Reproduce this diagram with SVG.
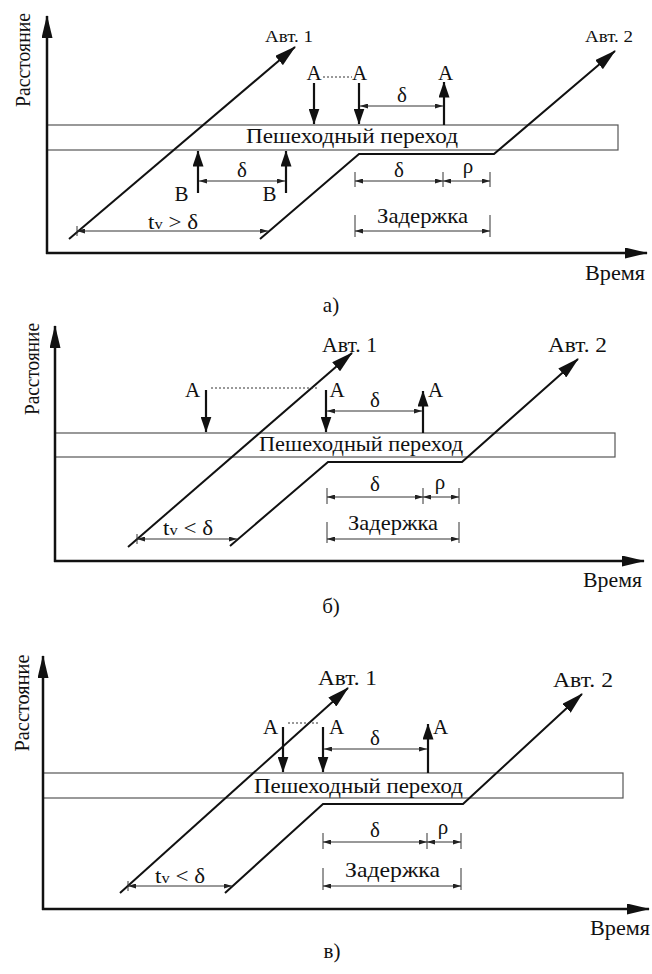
<svg xmlns="http://www.w3.org/2000/svg" width="652" height="974" viewBox="0 0 652 974">
<style>
text{font-family:"Liberation Serif","Times New Roman","DejaVu Serif",serif;fill:#111}
.t{font-size:21px}
.p{font-size:22px}
.s{font-size:16px}
.ax{stroke:#111;stroke-width:2.5;fill:none;marker-end:url(#axh)}
.veh{stroke:#111;stroke-width:2;fill:none;marker-end:url(#vh)}
.ped{stroke:#111;stroke-width:2.2;fill:none;marker-end:url(#ph)}
.zone{fill:#fff;stroke:#555;stroke-width:1.2}
.dim{stroke:#333;stroke-width:1;fill:none;marker-start:url(#dh);marker-end:url(#dh)}
.tick{stroke:#333;stroke-width:1;fill:none}
.dot{stroke:#333;stroke-width:1;stroke-dasharray:2,2;fill:none}
.c{text-anchor:middle}
</style>
<defs>
<marker id="axh" viewBox="0 0 23 11" refX="22" refY="5.5" markerWidth="23" markerHeight="11" markerUnits="userSpaceOnUse" orient="auto"><path d="M0,0L23,5.5L0,11z" fill="#111"/></marker>
<marker id="vh" viewBox="0 0 22 12" refX="21" refY="6" markerWidth="22" markerHeight="12" markerUnits="userSpaceOnUse" orient="auto"><path d="M0,0L22,6L0,12z" fill="#111"/></marker>
<marker id="ph" viewBox="0 0 16 11" refX="15.5" refY="5.5" markerWidth="16" markerHeight="11" markerUnits="userSpaceOnUse" orient="auto"><path d="M0,0L16,5.5L0,11z" fill="#111"/></marker>
<marker id="dh" viewBox="0 0 8 5" refX="8" refY="2.5" markerWidth="8" markerHeight="5" markerUnits="userSpaceOnUse" orient="auto-start-reverse"><path d="M0,0L8,2.5L0,5z" fill="#222"/></marker>
</defs>

<!-- ===== Panel a ===== -->
<g id="panel-a">
  <g id="a-crossing">
    <rect class="zone" x="47" y="125" width="571" height="25"/>
    <text class="p c" x="352" y="143" textLength="212" lengthAdjust="spacingAndGlyphs">Пешеходный переход</text>
  </g>
  <g id="a-axes">
    <line class="ax" x1="47" y1="254" x2="47" y2="16"/>
    <line class="ax" x1="46" y1="253" x2="647" y2="253"/>
    <text class="t c" transform="translate(30,60) rotate(-90)" textLength="94" lengthAdjust="spacingAndGlyphs">Расстояние</text>
    <text class="t c" x="615" y="280" textLength="60" lengthAdjust="spacingAndGlyphs">Время</text>
    <text class="t c" x="331" y="312">а)</text>
  </g>
  <g id="a-vehicles">
    <line class="veh" x1="69" y1="239" x2="295" y2="47"/>
    <polyline class="veh" points="260,239 359,154 494,154 615,51"/>
    <text class="s c" x="289" y="42" textLength="48" lengthAdjust="spacingAndGlyphs">Авт. 1</text>
    <text class="s c" x="609" y="42" textLength="48" lengthAdjust="spacingAndGlyphs">Авт. 2</text>
  </g>
  <g id="a-pedestrians">
    <line class="ped" x1="314" y1="83" x2="314" y2="124"/>
    <line class="ped" x1="359" y1="83" x2="359" y2="124"/>
    <line class="ped" x1="444" y1="125" x2="444" y2="82"/>
    <line class="dot" x1="323" y1="77" x2="352" y2="77"/>
    <text class="t c" x="314" y="80">А</text>
    <text class="t c" x="359.5" y="80">А</text>
    <text class="t c" x="445.5" y="80">А</text>
    <line class="ped" x1="198" y1="193" x2="198" y2="151"/>
    <line class="ped" x1="286" y1="193" x2="286" y2="151"/>
    <text class="t c" x="181.5" y="201">В</text>
    <text class="t c" x="269.5" y="201">В</text>
  </g>
  <g id="a-dimensions">
    <line class="dim" x1="360" y1="106" x2="443" y2="106"/>
    <text class="t c" x="402" y="102">δ</text>
    <line class="dim" x1="199" y1="181" x2="285" y2="181"/>
    <text class="t c" x="242" y="177">δ</text>
    <line class="tick" x1="355" y1="172" x2="355" y2="187"/>
    <line class="tick" x1="443" y1="172" x2="443" y2="187"/>
    <line class="tick" x1="490" y1="172" x2="490" y2="187"/>
    <line class="dim" x1="355" y1="181" x2="443" y2="181"/>
    <line class="dim" x1="443" y1="181" x2="490" y2="181"/>
    <text class="t c" x="399" y="177">δ</text>
    <text class="t c" x="468" y="173">ρ</text>
    <line class="tick" x1="355" y1="215" x2="355" y2="237"/>
    <line class="tick" x1="490" y1="215" x2="490" y2="237"/>
    <line class="dim" x1="355" y1="231" x2="490" y2="231"/>
    <text class="t c" x="422.5" y="223" textLength="91" lengthAdjust="spacingAndGlyphs">Задержка</text>
    <line class="tick" x1="77" y1="226" x2="77" y2="236"/>
    <line class="dim" x1="77" y1="231" x2="268" y2="231"/>
    <text class="t" x="148" y="229" textLength="50" lengthAdjust="spacingAndGlyphs">t<tspan font-size="15">v</tspan> &gt; δ</text>
  </g>
</g>

<!-- ===== Panel b ===== -->
<g id="panel-b">
  <g id="b-crossing">
    <rect class="zone" x="55" y="433" width="560" height="24"/>
    <text class="p c" x="361" y="451" textLength="204" lengthAdjust="spacingAndGlyphs">Пешеходный переход</text>
  </g>
  <g id="b-axes">
    <line class="ax" x1="55" y1="562" x2="55" y2="326"/>
    <line class="ax" x1="54" y1="561" x2="644" y2="561"/>
    <text class="t c" transform="translate(39,369) rotate(-90)" textLength="92" lengthAdjust="spacingAndGlyphs">Расстояние</text>
    <text class="t c" x="612.5" y="587" textLength="59" lengthAdjust="spacingAndGlyphs">Время</text>
    <text class="t c" x="331" y="613">б)</text>
  </g>
  <g id="b-vehicles">
    <line class="veh" x1="128" y1="547" x2="352" y2="353"/>
    <polyline class="veh" points="230,546 328,462 462,462 578,359"/>
    <text class="t c" x="349.5" y="352" textLength="55" lengthAdjust="spacingAndGlyphs">Авт. 1</text>
    <text class="t c" x="577.5" y="352" textLength="59" lengthAdjust="spacingAndGlyphs">Авт. 2</text>
  </g>
  <g id="b-pedestrians">
    <line class="ped" x1="206" y1="390" x2="206" y2="432"/>
    <line class="ped" x1="326" y1="390" x2="326" y2="432"/>
    <line class="ped" x1="423" y1="433" x2="423" y2="391"/>
    <line class="dot" x1="211" y1="388" x2="317" y2="388"/>
    <text class="t c" x="192.5" y="397">А</text>
    <text class="t c" x="337" y="397">А</text>
    <text class="t c" x="435.5" y="397">А</text>
  </g>
  <g id="b-dimensions">
    <line class="dim" x1="327" y1="411" x2="422" y2="411"/>
    <text class="t c" x="375" y="407">δ</text>
    <line class="tick" x1="327" y1="488" x2="327" y2="504"/>
    <line class="tick" x1="423" y1="488" x2="423" y2="504"/>
    <line class="tick" x1="459" y1="488" x2="459" y2="504"/>
    <line class="dim" x1="327" y1="497" x2="423" y2="497"/>
    <line class="dim" x1="423" y1="497" x2="459" y2="497"/>
    <text class="t c" x="375" y="491">δ</text>
    <text class="t c" x="440" y="489">ρ</text>
    <line class="tick" x1="327" y1="522" x2="327" y2="543"/>
    <line class="tick" x1="459" y1="522" x2="459" y2="543"/>
    <line class="dim" x1="327" y1="539" x2="459" y2="539"/>
    <text class="t c" x="393" y="530" textLength="90" lengthAdjust="spacingAndGlyphs">Задержка</text>
    <line class="tick" x1="137" y1="534" x2="137" y2="544"/>
    <line class="dim" x1="137" y1="539" x2="237" y2="539"/>
    <text class="t" x="163" y="535" textLength="50" lengthAdjust="spacingAndGlyphs">t<tspan font-size="15">v</tspan> &lt; δ</text>
  </g>
</g>

<!-- ===== Panel c ===== -->
<g id="panel-c">
  <g id="c-crossing">
    <rect class="zone" x="43" y="773" width="580" height="25"/>
    <text class="p c" x="358.5" y="793" textLength="209" lengthAdjust="spacingAndGlyphs">Пешеходный переход</text>
  </g>
  <g id="c-axes">
    <line class="ax" x1="43" y1="910" x2="43" y2="656"/>
    <line class="ax" x1="42" y1="909" x2="649" y2="909"/>
    <text class="t c" transform="translate(29,703) rotate(-90)" textLength="97" lengthAdjust="spacingAndGlyphs">Расстояние</text>
    <text class="t c" x="620" y="935" textLength="60" lengthAdjust="spacingAndGlyphs">Время</text>
    <text class="t c" x="332" y="958">в)</text>
  </g>
  <g id="c-vehicles">
    <line class="veh" x1="120" y1="893" x2="348" y2="688"/>
    <polyline class="veh" points="225,893 323,804 463,804 582,694"/>
    <text class="t c" x="347.5" y="685" textLength="59" lengthAdjust="spacingAndGlyphs">Авт. 1</text>
    <text class="t c" x="583" y="687" textLength="60" lengthAdjust="spacingAndGlyphs">Авт. 2</text>
  </g>
  <g id="c-pedestrians">
    <line class="ped" x1="283" y1="727" x2="283" y2="772"/>
    <line class="ped" x1="323" y1="727" x2="323" y2="772"/>
    <line class="ped" x1="428" y1="773" x2="428" y2="724"/>
    <line class="dot" x1="288" y1="723" x2="320" y2="723"/>
    <text class="t c" x="270.5" y="734">А</text>
    <text class="t c" x="336.5" y="734">А</text>
    <text class="t c" x="440.5" y="734">А</text>
  </g>
  <g id="c-dimensions">
    <line class="dim" x1="324" y1="749" x2="427" y2="749"/>
    <text class="t c" x="375" y="745">δ</text>
    <line class="tick" x1="323" y1="833" x2="323" y2="849"/>
    <line class="tick" x1="427" y1="833" x2="427" y2="849"/>
    <line class="tick" x1="461" y1="833" x2="461" y2="849"/>
    <line class="dim" x1="323" y1="842" x2="427" y2="842"/>
    <line class="dim" x1="427" y1="842" x2="461" y2="842"/>
    <text class="t c" x="375" y="837">δ</text>
    <text class="t c" x="443" y="834">ρ</text>
    <line class="tick" x1="323" y1="868" x2="323" y2="890"/>
    <line class="tick" x1="461" y1="868" x2="461" y2="890"/>
    <line class="dim" x1="323" y1="886" x2="461" y2="886"/>
    <text class="t c" x="392.5" y="877" textLength="95" lengthAdjust="spacingAndGlyphs">Задержка</text>
    <line class="tick" x1="128" y1="881" x2="128" y2="891"/>
    <line class="dim" x1="128" y1="886" x2="232" y2="886"/>
    <text class="t" x="155" y="883" textLength="50" lengthAdjust="spacingAndGlyphs">t<tspan font-size="15">v</tspan> &lt; δ</text>
  </g>
</g>
</svg>
